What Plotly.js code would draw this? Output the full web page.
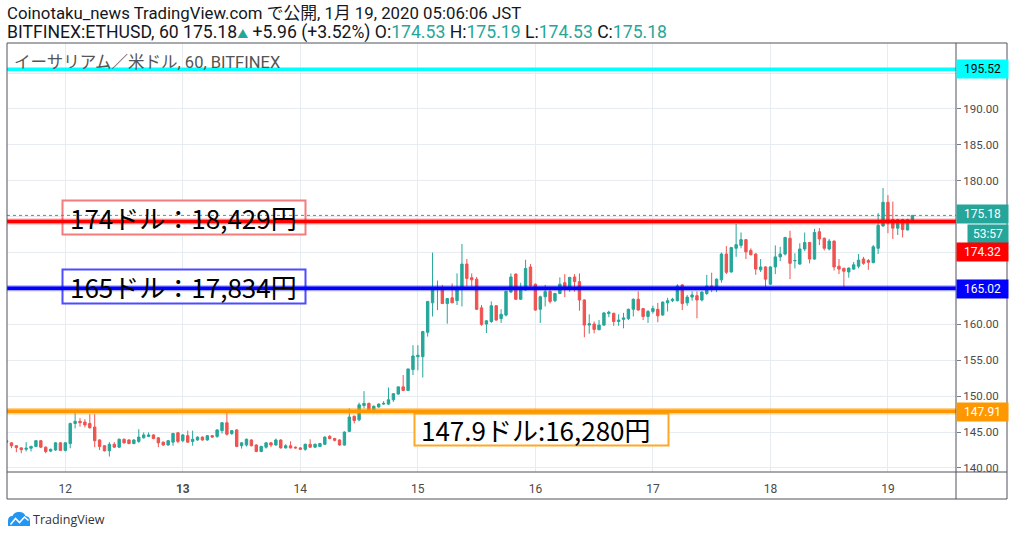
<!DOCTYPE html>
<html><head><meta charset="utf-8">
<script src="https://cdn.plot.ly/plotly-3.0.1.min.js"></script>
<style>html,body{margin:0;padding:0;background:#fff;overflow:hidden}#chart{width:1014px;height:537px}</style>
</head><body><div id="chart"></div>
<script>
// ---- data (ETHUSD 1h, BITFINEX, from 2020-01-11 12:00 JST, hourly) ----
const startTime = Date.UTC(2020, 0, 11, 12, 0, 0);
const openPrices = [
143.8,143.5,143.1,142.8,142.6,142.75,143.0,143.8,142.9,142.35,142.5,143.5,142.45,143.4,146.2,146.5,146.4,146.2,145.7,143.9,143.1,142.4,143.3,142.9,144.0,143.9,143.4,143.7,144.2,144.4,144.6,144.2,143.6,
143.2,143.6,144.9,143.8,144.5,143.7,143.9,144.3,143.9,144.5,144.4,145.2,146.3,144.8,145.3,143.1,143.2,143.9,143.2,142.3,142.9,143.5,143.2,143.9,142.8,143.1,142.9,142.8,142.6,143.3,142.9,
143.0,143.3,144.4,144.1,143.9,143.2,145.1,147.2,146.7,148.7,149.0,147.9,148.5,148.9,148.9,149.5,150.3,151.3,150.8,153.7,155.5,155.5,158.9,163.0,164.9,164.8,162.9,163.7,163.3,165.0,168.4,166.5,
166.3,162.3,160.05,160.4,162.6,160.8,161.3,164.5,167.0,163.5,164.8,168.0,165.6,162.1,163.85,164.6,163.3,164.3,165.8,164.9,166.6,165.95,163.4,159.9,160.05,159.25,159.9,161.5,161.55,160.4,160.7,160.8,
162.1,163.5,162.2,161.1,161.8,162.1,161.3,163.0,163.3,163.3,165.5,163.0,163.8,164.0,163.4,164.3,165.35,165.1,166.2,169.8,167.3,170.6,171.0,171.8,170.3,169.8,167.6,168.0,165.6,168.0,169.4,169.8,
172.0,168.85,168.4,170.5,171.4,169.1,172.9,172.0,170.5,171.6,168.1,167.8,167.3,167.7,168.1,169.1,168.9,168.6,170.6,173.7,177.0,174.6,173.4,174.6,173.15,174.53];
const highPrices = [
144.0,143.6,143.2,142.9,143.6,143.1,143.85,143.9,143.0,142.7,143.6,143.6,143.6,146.3,147.76,146.95,146.8,147.5,147.5,144.0,143.2,143.6,143.6,144.1,144.1,144.0,144.0,145.4,144.95,144.95,144.7,144.3,143.7,
143.9,144.9,145.0,144.7,145.2,145.2,144.4,144.4,144.6,144.6,145.4,146.4,147.7,145.3,145.4,143.6,144.1,144.0,143.3,143.1,143.6,143.6,144.1,144.0,143.3,143.7,143.0,142.9,143.4,144.0,143.4,
143.5,144.4,144.6,144.2,144.0,145.1,148.3,147.3,149.1,150.7,149.1,148.7,149.0,149.3,151.2,150.4,151.3,152.95,153.8,157.1,157.1,159.1,163.2,170.0,166.1,165.5,163.6,165.7,167.1,171.2,169.1,167.1,
166.6,162.7,160.6,163.2,162.7,162.1,164.7,167.1,167.1,165.8,169.0,168.4,165.7,164.0,165.5,164.8,164.4,166.55,167.0,166.6,167.0,167.1,163.5,161.4,160.4,160.6,161.7,161.9,161.6,161.4,161.6,162.2,
163.6,164.6,162.3,162.0,162.6,163.0,163.2,163.7,163.7,165.6,165.6,164.1,164.6,164.6,164.6,166.9,167.2,166.4,170.0,170.9,170.8,174.0,172.8,171.9,170.6,169.9,169.1,168.1,168.1,171.0,170.8,172.2,
173.05,169.9,171.3,172.8,171.5,173.3,173.4,172.1,171.9,171.7,169.1,167.9,167.9,168.7,169.8,169.4,169.1,171.05,175.5,179.0,178.0,177.1,174.7,174.7,174.7,175.19];
const lowPrices = [
143.4,142.75,142.2,142.05,142.3,142.3,142.9,142.8,142.05,142.2,142.4,142.4,142.3,142.75,145.5,145.75,145.65,145.5,142.9,142.5,142.3,141.6,142.8,142.8,143.4,143.3,143.3,143.5,144.1,144.3,144.0,142.9,143.1,
143.1,143.1,143.45,143.6,143.5,143.1,143.8,143.8,143.8,144.2,144.2,144.8,144.5,144.6,142.9,142.7,143.0,143.0,142.2,142.2,142.7,142.9,143.1,142.7,142.7,142.7,142.7,142.5,142.4,142.8,142.8,
142.9,143.2,144.0,143.7,143.1,143.1,145.0,146.2,146.5,148.3,147.8,147.6,148.4,148.8,148.8,149.2,150.2,150.7,150.7,152.95,153.6,152.6,158.3,161.1,162.0,162.9,160.1,163.0,162.7,162.5,165.3,165.3,
162.0,159.8,158.8,160.2,160.5,160.2,161.1,164.4,163.4,163.4,164.7,165.0,161.9,160.2,162.5,162.9,163.1,164.2,163.8,164.55,164.55,161.9,158.2,158.7,158.75,159.2,159.8,161.0,159.8,159.8,159.45,160.6,
161.1,161.9,160.6,160.2,161.5,160.3,161.2,161.8,163.1,163.2,162.0,162.6,163.3,160.85,163.2,164.1,164.5,164.5,165.8,167.0,167.2,169.4,170.6,169.1,169.6,166.9,167.3,165.0,165.5,167.0,168.8,169.6,
166.3,167.8,168.3,170.2,168.5,169.0,171.05,170.3,170.3,167.5,167.0,165.0,166.5,167.6,167.8,168.3,167.6,168.5,169.8,173.6,172.7,171.9,172.45,172.1,173.1,174.53];
const closePrices = [
143.6,143.1,142.85,142.55,142.75,143.0,143.8,142.9,142.3,142.6,143.5,142.45,143.5,146.2,146.5,146.3,146.0,145.6,143.8,143.0,142.4,143.3,142.9,144.0,143.5,143.4,143.9,144.3,144.6,144.6,144.1,143.5,143.2,
143.8,144.8,143.7,144.6,143.6,144.0,144.3,143.9,144.5,144.3,145.3,146.3,144.7,145.2,143.0,143.5,144.0,143.1,142.3,143.0,143.5,143.2,143.9,142.8,143.1,142.8,142.8,142.6,143.3,142.9,143.3,
143.4,144.3,144.1,143.85,143.2,145.0,147.1,146.6,148.8,149.0,147.9,148.6,148.9,149.0,149.5,150.35,151.3,150.8,153.8,155.6,155.7,159.0,163.2,164.8,165.1,162.9,163.6,163.0,164.8,168.4,166.4,166.2,
162.1,160.0,160.5,162.6,160.6,161.4,164.6,166.6,163.5,164.9,167.8,165.4,162.0,163.85,164.55,163.2,164.3,165.6,165.0,166.55,165.95,163.4,159.9,160.1,159.3,159.9,161.6,161.7,160.4,160.6,160.9,162.1,
163.5,162.0,161.1,161.8,162.2,161.2,163.1,163.3,163.5,165.35,162.9,163.8,164.1,163.4,164.5,165.35,165.0,166.3,169.8,167.25,170.7,171.1,171.8,170.1,169.7,167.7,168.0,166.3,168.0,169.4,169.8,172.1,
168.5,168.9,170.5,171.4,169.1,172.8,171.9,170.6,171.6,168.0,167.7,167.4,167.85,168.3,168.95,168.5,168.65,170.8,173.8,177.0,174.1,173.4,174.6,173.2,174.6,175.18];

const dayTicks = ['2020-01-12','2020-01-13','2020-01-14','2020-01-15','2020-01-16','2020-01-17','2020-01-18','2020-01-19'];
const dayLabels = ['12','<b>13</b>','14','15','16','17','18','19'];
const priceTicks = [140,145,150,155,160,165,170,175,180,185,190,195];
const priceTickHidden = [165,170,175,195]; // covered by the price tags in the reference

const levelValues = [195.52, 174.32, 165.02, 147.91];
const lastPrice = 175.18;
const countdown = '53:57';
const noteTexts = ['174ドル：18,429円', '165ドル：17,834円', '147.9ドル:16,280円'];
const headerLine1 = 'Coinotaku_news TradingView.com で公開, 1月 19, 2020 05:06:06 JST';
const symbolLabel = 'イーサリアム／米ドル, 60, BITFINEX';

// ---- helpers ----
const HOUR = 3600000;
function ts(ms){ return new Date(ms).toISOString().slice(0,19).replace('T',' '); }
const times = openPrices.map((_, i) => ts(startTime + i * HOUR));
const PL = 7, PR = 956, PT = 43, PB = 472;
const px = x => (x - PL) / (PR - PL);
const py = y => (PB - y) / (PB - PT);
function pathPx(s){
  return s.replace(/(-?\d+\.?\d*),(-?\d+\.?\d*)/g, (m, a, b) => px(+a).toFixed(5) + ',' + py(+b).toFixed(5));
}
const t0 = startTime + 12 * HOUR; // Jan 12 00:00
const xRange = [ts(t0 - 11.91 * HOUR), ts(t0 + 181.9 * HOUR)];

const GREEN = '#26a69a', RED = '#ef5350';
const FONT = 'Roboto, "Noto Sans CJK JP", sans-serif';
const JFONT = '"Noto Sans CJK JP", "Noto Sans", sans-serif';

const trace = {
  type: 'candlestick', x: times,
  open: openPrices, high: highPrices, low: lowPrices, close: closePrices,
  increasing: {line: {color: GREEN, width: 1}, fillcolor: GREEN},
  decreasing: {line: {color: RED, width: 1}, fillcolor: RED},
  whiskerwidth: 0, hoverinfo: 'skip', showlegend: false
};

function hline(y, color, width, dash){
  return {type: 'line', xref: 'paper', yref: 'y', x0: 0, x1: 1, y0: y, y1: y,
          line: {color: color, width: width, dash: dash || 'solid'}, layer: 'above'};
}
function rectPx(x0, y0, x1, y1, lineColor, fill, w){
  return {type: 'rect', xref: 'paper', yref: 'paper', x0: px(x0), x1: px(x1), y0: py(y1), y1: py(y0),
          line: {color: lineColor, width: w}, fillcolor: fill, layer: 'above'};
}
function linePx(x0, y0, x1, y1, color, w){
  return {type: 'line', xref: 'paper', yref: 'paper', x0: px(x0), x1: px(x1), y0: py(y0), y1: py(y1),
          line: {color: color, width: w}, layer: 'above'};
}

const shapes = [
  rectPx(62.5, 200.5, 305.5, 234.5, '#f47c7c', '#ffffff', 2),
  rectPx(62.5, 269.5, 305.5, 303.5, '#4d4dff', '#ffffff', 2),
  rectPx(414.5, 413.5, 668.5, 445.5, '#ffa726', '#ffffff', 2),
  hline(levelValues[0], '#00ffff', 3.5),
  hline(lastPrice, GREEN, 1, 'dot'),
  hline(levelValues[1], 'rgba(255,0,0,0.35)', 6),
  hline(levelValues[1], '#ff0000', 3.5),
  hline(levelValues[2], 'rgba(0,0,255,0.35)', 6),
  hline(levelValues[2], '#0000ff', 3.5),
  hline(levelValues[3], 'rgba(255,152,0,0.45)', 6.5),
  hline(levelValues[3], '#ff9800', 3.5),
  rectPx(7, 43, 1007, 499, '#50535e', 'rgba(0,0,0,0)', 1),
  linePx(956, 43, 956, 499, '#50535e', 1),
  linePx(7, 472, 1007, 472, '#50535e', 1),
  {type: 'path', xref: 'paper', yref: 'paper', layer: 'above',
   path: pathPx('M8,526 L8,521 Q8,516 12.5,516 Q14.5,511.5 19.5,512 Q24,512 25.5,516 Q30,516.5 30,521 L30,526 Z'),
   fillcolor: '#2196f3', line: {width: 0}},
  {type: 'path', xref: 'paper', yref: 'paper', layer: 'above',
   path: pathPx('M10.5,524.5 L15.5,518.5 L19.5,522.5 L24.5,517 L28.5,520.5'),
   line: {color: '#ffffff', width: 1.6}}
];

function tagPx(cy, text, bg, fg, x, w){
  return {xref: 'paper', x: px(x || 956), xanchor: 'left', yref: 'paper', y: py(cy), yanchor: 'middle',
          text: text, showarrow: false, bgcolor: bg, width: w || 47, height: 14, borderpad: 2,
          align: 'center', font: {family: FONT, size: 12, color: fg}};
}
function txtPx(x, y, text, font, size, color){
  return {xref: 'paper', yref: 'paper', x: px(x), y: py(y), xanchor: 'left', yanchor: 'middle',
          showarrow: false, text: text, font: {family: font, size: size, color: color}};
}

const line2 = 'BITFINEX:ETHUSD, 60 175.18<span style="color:' + GREEN + ';font-size:11px">▲</span> +5.96 (+3.52%) O:<span style="color:' + GREEN + '">174.53</span> H:<span style="color:' + GREEN + '">175.19</span> L:<span style="color:' + GREEN + '">174.53</span> C:<span style="color:' + GREEN + '">175.18</span>';

const annotations = [
  txtPx(5, 13, headerLine1, FONT, 16.8, '#131722'),
  txtPx(5, 32, line2, FONT, 17.6, '#131722'),
  txtPx(12, 62, symbolLabel, FONT, 16.5, '#555555'),
  txtPx(68, 217.5, noteTexts[0], JFONT, 26, '#000000'),
  txtPx(68, 286.5, noteTexts[1], JFONT, 26, '#000000'),
  txtPx(419, 429.5, noteTexts[2], JFONT, 26, '#000000'),
  tagPx(69, levelValues[0].toFixed(2), '#00ffff', '#000000'),
  tagPx(214.5, lastPrice.toFixed(2), GREEN, '#ffffff'),
  tagPx(233.5, countdown, GREEN, '#ffffff', 966.5, 36),
  tagPx(252, levelValues[1].toFixed(2), '#ff0000', '#ffffff'),
  tagPx(289, levelValues[2].toFixed(2), '#0000ff', '#ffffff'),
  tagPx(412, levelValues[3].toFixed(2), '#ff9800', '#ffffff'),
  txtPx(31, 519, 'TradingView', '"Open Sans", Roboto, sans-serif', 12.5, '#333333')
];

const layout = {
  width: 1014, height: 537,
  margin: {l: PL, r: 1014 - PR, t: PT, b: 537 - PB, pad: 0},
  paper_bgcolor: '#ffffff', plot_bgcolor: '#ffffff',
  showlegend: false, dragmode: false,
  xaxis: {type: 'date', range: xRange, tickvals: dayTicks, ticktext: dayLabels,
          tickfont: {family: FONT, size: 12, color: '#4a4a4a'},
          showgrid: true, gridcolor: '#e6ecf1', gridwidth: 1,
          ticks: 'outside', ticklen: 6, tickcolor: 'rgba(0,0,0,0)',
          showline: false, zeroline: false, rangeslider: {visible: false}, fixedrange: true},
  yaxis: {side: 'right', range: [139.44, 199.19],
          tickvals: priceTicks,
          ticktext: priceTicks.map(v => priceTickHidden.includes(v) ? '' : v.toFixed(2)),
          tickfont: {family: FONT, size: 11.5, color: '#4a4a4a'},
          ticks: 'outside', ticklen: 4, tickcolor: '#787b86',
          showgrid: true, gridcolor: '#e6ecf1', gridwidth: 1,
          showline: false, zeroline: false, fixedrange: true},
  shapes: shapes,
  annotations: annotations
};

Plotly.newPlot('chart', [trace], layout, {displayModeBar: false, staticPlot: true});
</script></body></html>
